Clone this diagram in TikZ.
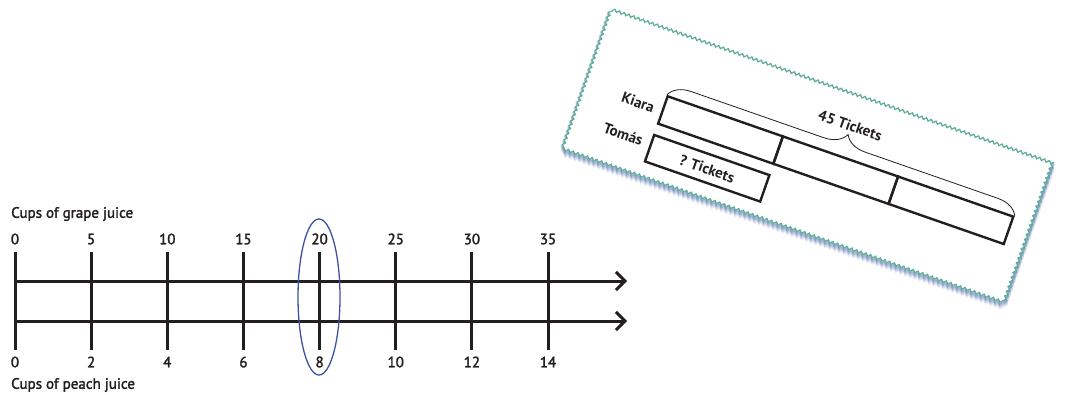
\documentclass[tikz,border=0pt]{standalone}
\usepackage{fontspec}
\setmainfont{PT Sans}[UprightFeatures={FakeBold=2}]
\usetikzlibrary{arrows.meta,shapes.geometric,decorations.pathmorphing,decorations.pathreplacing}
\definecolor{ovalblue}{HTML}{3E52A3}
\definecolor{cardedge}{HTML}{5FAE9A}
\definecolor{cardshadow}{HTML}{4F6FA8}
\definecolor{ink}{HTML}{231F20}
\tikzset{
  tickline/.style={ink, line width=3pt},
  axisline/.style={ink, line width=3pt, -{Straight Barb[length=9pt,width=18pt,line width=3pt]}},
  num/.style={font=\fontsize{15}{15}\selectfont, inner sep=0pt, text=ink},
  axlabel/.style={font=\fontsize{15}{15}\selectfont, inner sep=0pt, anchor=west, text=ink},
  wavy/.style={decorate, decoration={snake, segment length=5pt, amplitude=1.3pt}},
  barbox/.style={draw=ink, line width=2.4pt, rotate=-19.2, minimum width=122pt, minimum height=29pt, inner sep=0pt},
  cardtext/.style={font=\fontsize{15}{15}\selectfont\bfseries, inner sep=0pt, rotate=-19.2, text=ink},
}
\begin{document}
\begin{tikzpicture}[x=1pt,y=-1pt]
\useasboundingbox (0,0) rectangle (1065,394);
% ---------- double number line ----------
\node[axlabel] (glab) at (11,214) {Cups of grape juice};
\node[axlabel] (plab) at (11,385) {Cups of peach juice};
\foreach \i/\g/\p in {0/0/0,1/5/2,2/10/4,3/15/6,4/20/8,5/25/10,6/30/12,7/35/14}{
  \pgfmathsetmacro{\xx}{15+\i*76.15}
  \coordinate (tt\i) at (\xx,252);
  \coordinate (tb\i) at (\xx,350);
  \draw[tickline] (tt\i) -- (tb\i);
  \node[num] (g\i) at (\xx,239) {\g};
  \node[num] (p\i) at (\xx,362) {\p};
}
\coordinate (gs) at (15,281);
\coordinate (ge) at (627,281);
\coordinate (ps) at (15,321);
\coordinate (pe) at (627,321);
\draw[axisline] (gs) -- (ge);
\draw[axisline] (ps) -- (pe);
\node[draw=ovalblue, line width=1.3pt, ellipse, minimum width=42pt, minimum height=156pt, inner sep=0pt] (oval) at (319,297) {};
% ---------- tape diagram card ----------
\begin{scope}[shift={(613,10)}, rotate=-19.2]
  \coordinate (c1) at (0,0);
  \coordinate (c2) at (465,0);
  \coordinate (c3) at (465,147);
  \coordinate (c4) at (0,147);
\end{scope}
\foreach \d/\o in {6/0.07,5/0.1,4/0.14,3/0.18,2/0.24,1/0.3}{
  \draw[wavy, cardshadow, opacity=\o, line width=2.4pt]
    ([yshift=-\d pt]c1) -- ([yshift=-\d pt]c2) -- ([yshift=-\d pt]c3) -- ([yshift=-\d pt]c4) -- cycle;
}
\fill[wavy, white] (c1) -- (c2) -- (c3) -- (c4) -- cycle;
\draw[wavy, cardedge, line width=1.2pt] (c1) -- (c2) -- (c3) -- (c4) -- cycle;
\begin{scope}[shift={(613,10)}, rotate=-19.2]
  \node[barbox] (k1) at (141,78) {};
  \node[barbox] (k2) at (263,78) {};
  \node[barbox] (k3) at (385,78) {};
  \node[barbox, minimum height=28pt] (t1) at (141,118.5) {};
  \node[cardtext] (tq) at (141,119) {? Tickets};
  \draw[ink, line width=0.8pt, decorate, decoration={brace, amplitude=22pt}] (k1.north west) -- (k3.north east);
  \node[cardtext] (tot) at (262,31) {45 Tickets};
  \node[cardtext, anchor=east] (kiara) at (71,79) {Kiara};
  \node[cardtext, anchor=east] (tomas) at (71,114) {Tomás};
\end{scope}
\end{tikzpicture}
\end{document}
